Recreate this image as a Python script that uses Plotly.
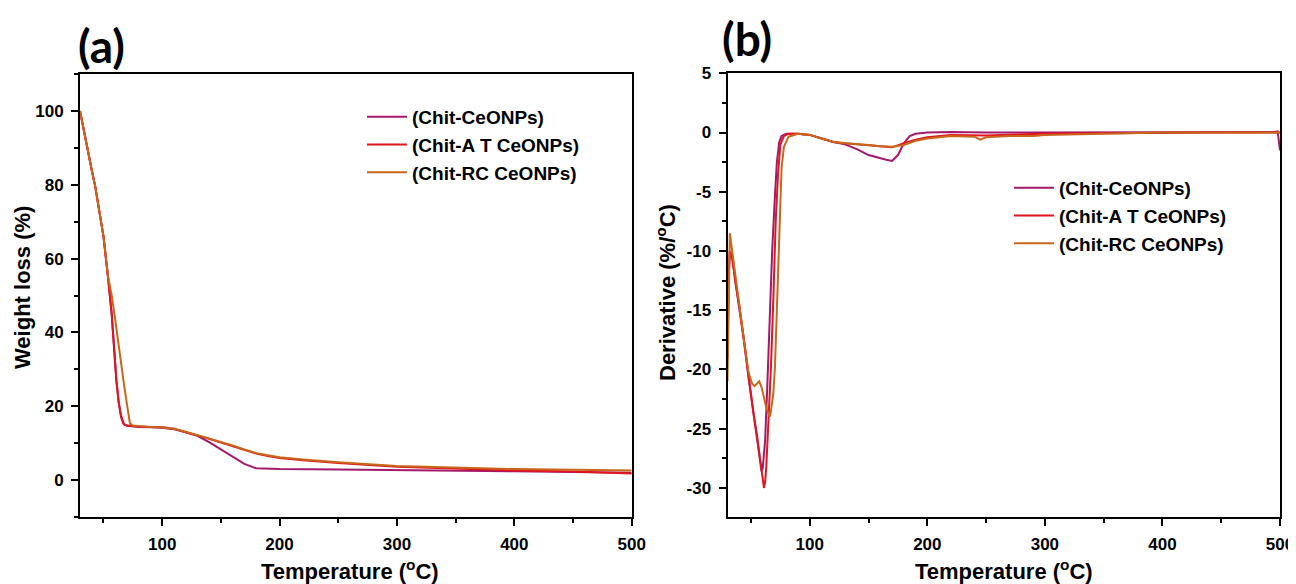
import plotly.graph_objects as go

# ---------------- data ----------------
series_names = ["(Chit-CeONPs)", "(Chit-A T CeONPs)", "(Chit-RC CeONPs)"]
series_colors = ["#A3196B", "#E2141E", "#C8671C"]

# (a) TGA weight loss
tga_x_ce = [30, 33, 36, 40, 43, 46, 50, 54, 57, 59, 61, 63, 65, 67, 68, 70, 75, 80, 90, 100, 110, 120, 130,
            140, 150, 160, 170, 180, 190, 200, 250, 300, 350, 400, 450, 500]
tga_y_ce = [100, 95, 90, 84, 79.5, 74, 66, 54.5, 45, 36, 27, 21, 17, 15.3, 15, 14.7, 14.5, 14.4, 14.3, 14.2, 13.8, 13, 12,
            10.3, 8.3, 6.3, 4.4, 3.2, 3.1, 3.0, 2.9, 2.8, 2.6, 2.4, 2.2, 2.0]

tga_x_at = [30, 33, 36, 40, 43, 46, 50, 54, 57, 59, 61, 63, 65, 67, 68, 70, 75, 80, 90, 100, 110, 120, 130,
            140, 150, 160, 170, 180, 190, 200, 220, 250, 300, 350, 400, 450, 500]
tga_y_at = [100, 95, 90, 84, 79.5, 74, 66, 54.5, 45, 36, 27, 21, 17.5, 15.5, 15.1, 14.8, 14.6, 14.5, 14.4, 14.3, 13.9, 13.1, 12.1,
            11.2, 10.2, 9.2, 8.2, 7.2, 6.5, 6.0, 5.4, 4.6, 3.6, 3.0, 2.6, 2.3, 1.8]

tga_x_rc = [30, 33, 36, 40, 43, 46, 50, 54, 57, 60, 63, 67, 70, 72.6, 75, 80, 90, 100, 110, 120, 130,
            140, 150, 160, 170, 180, 190, 200, 220, 250, 300, 350, 400, 450, 500]
tga_y_rc = [100, 95, 90, 84, 79.5, 74, 66, 55, 50, 43.5, 36, 27, 20.5, 15.3, 14.8, 14.6, 14.4, 14.3, 13.9, 13.1, 12.2,
            11.4, 10.4, 9.4, 8.3, 7.3, 6.7, 6.2, 5.6, 4.8, 3.8, 3.3, 3.0, 2.8, 2.6]

# (b) DTG derivative
dtg_x_ce = [30, 31, 32, 34, 37, 40, 44, 48, 52, 55, 57, 59, 60, 62, 64, 66, 68, 70, 72, 74, 76, 80, 90, 100, 110, 120,
            130, 140, 150, 160, 165, 170, 175, 180, 185, 190, 200, 220, 250, 300, 350, 400, 450, 495, 498, 500]
dtg_y_ce = [-19, -12, -10, -10.6, -12.8, -14.7, -17.6, -20.8, -23.6, -25.6, -27.2, -28.6, -28.3, -26, -21, -15, -10, -6, -2.5, -0.8,
            -0.3, -0.1, -0.1, -0.2, -0.5, -0.8, -1.0, -1.4, -1.9, -2.2, -2.3, -2.4, -1.9, -0.9, -0.3, -0.1, 0, 0.05, 0, 0, 0,
            0.05, 0.05, 0.05, 0.1, -1.5]

dtg_x_at = [30, 31, 32, 34, 37, 40, 44, 48, 52, 55, 58, 60, 61, 62, 63, 65, 67, 69, 71, 73, 75, 78, 82, 90, 100, 110, 120,
            130, 140, 150, 160, 170, 180, 190, 200, 220, 250, 300, 350, 400, 450, 500]
dtg_y_at = [-19, -12, -10, -10.5, -12.8, -14.6, -17.5, -20.8, -23.6, -25.5, -28, -29.6, -30, -29.5, -28.2, -24, -19.7, -14,
            -7.5, -3.5, -1, -0.3, -0.1, -0.1, -0.2, -0.5, -0.8, -0.9, -1.0, -1.1, -1.2, -1.25, -0.9, -0.6, -0.4, -0.2,
            -0.25, -0.1, -0.05, 0, 0, 0]

dtg_x_rc = [30, 31, 32, 34, 37, 40, 44, 48, 51, 53, 55, 57, 59, 61, 63, 65, 66, 67, 69, 70.4, 72, 73.2, 75, 76, 78, 82, 90,
            100, 110, 120, 130, 140, 150, 160, 170, 180, 190, 200, 220, 240, 245, 250, 270, 290, 300, 350, 400, 450, 500]
dtg_y_rc = [-21, -14, -8.5, -10, -12.5, -14.5, -17.5, -20.3, -21.2, -21.4, -21.2, -21.0, -21.5, -22.5, -23.2, -23.8, -24,
            -23.5, -22, -19.7, -15, -11.3, -5.5, -3, -1.2, -0.35, -0.1, -0.2, -0.5, -0.8, -0.9, -0.95, -1.05, -1.15, -1.2,
            -1.05, -0.7, -0.5, -0.3, -0.35, -0.6, -0.4, -0.3, -0.3, -0.2, -0.1, 0, 0, 0]

x_tickvals = [100, 200, 300, 400, 500]
x_ticktext = ["100", "200", "300", "400", "500"]
ya_tickvals = [0, 20, 40, 60, 80, 100]
ya_ticktext = ["0", "20", "40", "60", "80", "100"]
yb_tickvals = [5, 0, -5, -10, -15, -20, -25, -30]
yb_ticktext = ["5", "0", "-5", "-10", "-15", "-20", "-25", "-30"]

# ---------------- figure ----------------
OFF = 8                      # page body margin
W, H = 1296 - OFF, 584 - OFF
fig = go.Figure()

tga = [(tga_x_ce, tga_y_ce), (tga_x_at, tga_y_at), (tga_x_rc, tga_y_rc)]
dtg = [(dtg_x_ce, dtg_y_ce), (dtg_x_at, dtg_y_at), (dtg_x_rc, dtg_y_rc)]

for (xs, ys), name, col in zip(tga, series_names, series_colors):
    fig.add_trace(go.Scatter(x=xs, y=ys, mode="lines", name=name, line=dict(color=col, width=2),
                             xaxis="x", yaxis="y", legend="legend"))
for (xs, ys), name, col in zip(dtg, series_names, series_colors):
    fig.add_trace(go.Scatter(x=xs, y=ys, mode="lines", name=name, line=dict(color=col, width=2),
                             xaxis="x2", yaxis="y2", legend="legend2"))

FONT = "Liberation Sans, Arial, sans-serif"
tickfont = dict(family=FONT, size=17, color="black", weight="bold")

def px_x(p):
    return (p - OFF) / W

def px_y(p):
    return 1 - (p - OFF) / H

ax_common = dict(showline=True, linecolor="black", linewidth=2, mirror=True, ticks="outside",
                 ticklen=7, tickwidth=2, tickcolor="black", showgrid=False, zeroline=False,
                 tickfont=tickfont, ticklabelstandoff=4, automargin=False, ticklabeloverflow="allow")

fig.update_layout(
    template="none",
    width=W, height=H, autosize=False,
    margin=dict(l=0, r=0, t=0, b=0, pad=0),
    paper_bgcolor="white", plot_bgcolor="white",
    xaxis=dict(domain=[px_x(80), px_x(631.7)], range=[30, 500], anchor="y",
               tickvals=x_tickvals, ticktext=x_ticktext,
               minor=dict(ticks="outside", ticklen=4, tickwidth=2, tickcolor="black", dtick=50, tick0=0),
               **ax_common),
    yaxis=dict(domain=[px_y(517), px_y(74)], range=[-10, 110], anchor="x",
               tickvals=ya_tickvals, ticktext=ya_ticktext,
               minor=dict(ticks="outside", ticklen=4, tickwidth=2, tickcolor="black", dtick=10, tick0=0),
               **ax_common),
    xaxis2=dict(domain=[px_x(727.5), px_x(1280)], range=[30, 500], anchor="y2",
                tickvals=x_tickvals, ticktext=x_ticktext,
                minor=dict(ticks="outside", ticklen=4, tickwidth=2, tickcolor="black", dtick=50, tick0=0),
                **ax_common),
    yaxis2=dict(domain=[px_y(517), px_y(73.3)], range=[-32.45, 5], anchor="x2",
                tickvals=yb_tickvals, ticktext=yb_ticktext,
                minor=dict(ticks="outside", ticklen=4, tickwidth=2, tickcolor="black", dtick=2.5, tick0=0),
                **ax_common),
    legend=dict(x=px_x(362), y=px_y(98), xanchor="left", yanchor="top", bgcolor="rgba(0,0,0,0)",
                font=dict(family=FONT, size=19, color="black", weight="bold"), tracegroupgap=0,
                itemwidth=40),
    legend2=dict(x=px_x(1009), y=px_y(169), xanchor="left", yanchor="top", bgcolor="rgba(0,0,0,0)",
                 font=dict(family=FONT, size=19, color="black", weight="bold"), tracegroupgap=0,
                 itemwidth=40),
    showlegend=True,
)

title_font = dict(family=FONT, size=22, color="black", weight="bold")
annots = [
    dict(text="Temperature (<sup>o</sup>C)", x=px_x(350), y=px_y(570), xanchor="center", yanchor="middle",
         font=title_font),
    dict(text="Temperature (<sup>o</sup>C)", x=px_x(1004), y=px_y(570), xanchor="center", yanchor="middle",
         font=title_font),
    dict(text="Weight loss (%)", x=px_x(22), y=px_y(288), xanchor="center", yanchor="middle",
         textangle=-90, font=title_font),
    dict(text="Derivative (%/<sup>o</sup>C)", x=px_x(666), y=px_y(293), xanchor="center", yanchor="middle",
         textangle=-90, font=title_font),
    dict(text="(a)", x=px_x(76), y=px_y(45), xanchor="left", yanchor="middle",
         font=dict(family="Lato, Open Sans, sans-serif", size=46, color="black", weight="bold")),
    dict(text="(b)", x=px_x(720), y=px_y(38), xanchor="left", yanchor="middle",
         font=dict(family="Lato, Open Sans, sans-serif", size=46, color="black", weight="bold")),
]
for a in annots:
    a.update(xref="paper", yref="paper", showarrow=False)
fig.update_layout(annotations=annots)

fig.write_html("out.html", config={"responsive": False, "displayModeBar": False})
